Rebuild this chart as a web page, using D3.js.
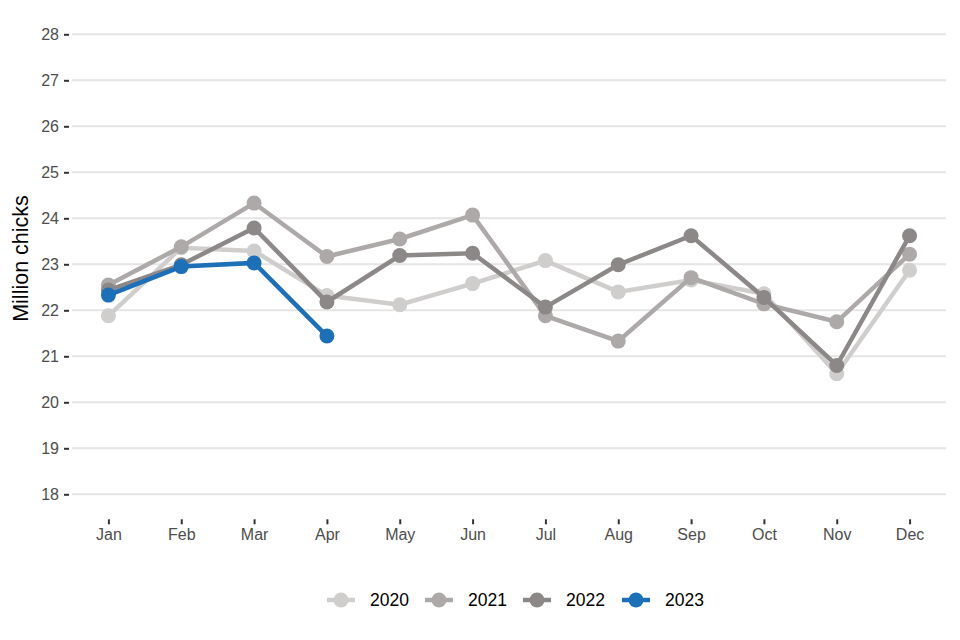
<!DOCTYPE html>
<html>
<head>
<meta charset="utf-8">
<script src="https://cdn.jsdelivr.net/npm/d3@7"></script>
<style>
    body { margin: 0; background: #fff; }
    text { font-family: "Liberation Sans", Arial, sans-serif; }
</style>
</head>
<body>
<div id="chart"></div>
<script>
///////////////////////////
// DATA
///////////////////////////

const months = ['Jan', 'Feb', 'Mar', 'Apr', 'May', 'Jun', 'Jul', 'Aug', 'Sep', 'Oct', 'Nov', 'Dec'];
const years = ['2020', '2021', '2022', '2023'];
const yTicks = [18, 19, 20, 21, 22, 23, 24, 25, 26, 27, 28];

const values2020 = [21.88, 23.36, 23.29, 22.32, 22.12, 22.58, 23.08, 22.40, 22.66, 22.36, 20.62, 22.87];
const values2021 = [22.55, 23.38, 24.33, 23.17, 23.55, 24.07, 21.88, 21.33, 22.71, 22.14, 21.75, 23.22];
const values2022 = [22.44, 22.99, 23.79, 22.18, 23.19, 23.24, 22.07, 22.99, 23.62, 22.28, 20.80, 23.62];
const values2023 = [22.33, 22.95, 23.03, 21.44];

const colors = ['#d0cdcd', '#ada9a9', '#8c8888', '#1d70b8'];

const series = [values2020, values2021, values2022, values2023].map((vals, i) => {
    return {
        year: years[i],
        color: colors[i],
        points: vals.map((v, j) => { return { month: months[j], value: v } })
    };
});

///////////////////////////
// CHART
///////////////////////////

const width = 960;
const height = 640;
const plotLeft = 72, plotRight = 946, plotTop = 34.3, plotBottom = 494.3;

const svg = d3.select('#chart')
    .append('svg')
    .attr('width', width)
    .attr('height', height);

const x = d3.scalePoint()
    .domain(months)
    .range([plotLeft, plotRight])
    .padding(0.5);

const y = d3.scaleLinear()
    .domain([18, 28])
    .range([plotBottom, plotTop]);

// gridlines
svg.append('g')
    .selectAll('line')
    .data(yTicks)
    .enter().append('line')
    .attr('x1', plotLeft)
    .attr('x2', plotRight)
    .attr('y1', (d) => { return y(d) })
    .attr('y2', (d) => { return y(d) })
    .style('stroke', '#e5e5e5')
    .style('stroke-width', 2);

// y axis
const yAxis = svg.append('g')
    .attr('transform', `translate(${plotLeft - 3},0)`)
    .call(d3.axisLeft(y).tickValues(yTicks).tickSize(5).tickPadding(5));
yAxis.select('.domain').remove();
yAxis.selectAll('.tick line').style('stroke', '#333').style('stroke-width', 2);
yAxis.selectAll('.tick text')
    .style('font-size', '16px')
    .style('fill', '#4d4d4d')
    .style('font-family', '"Liberation Sans", Arial, sans-serif');

// x axis
const xAxis = svg.append('g')
    .attr('transform', `translate(0,${plotBottom + 25})`)
    .call(d3.axisBottom(x).tickSize(5).tickPadding(4));
xAxis.select('.domain').remove();
xAxis.selectAll('.tick line').style('stroke', '#333').style('stroke-width', 2);
xAxis.selectAll('.tick text')
    .style('font-size', '16px')
    .style('fill', '#4d4d4d')
    .style('font-family', '"Liberation Sans", Arial, sans-serif');

// y title
svg.append('text')
    .attr('transform', `translate(28,258.5) rotate(-90)`)
    .attr('text-anchor', 'middle')
    .style('font-size', '21.5px')
    .style('fill', '#000')
    .text('Million chicks');

// lines and points
const line = d3.line()
    .x((d) => { return x(d.month) })
    .y((d) => { return y(d.value) });

const groups = svg.selectAll('.series')
    .data(series)
    .enter().append('g')
    .attr('class', 'series');

groups.append('path')
    .attr('d', (d) => { return line(d.points) })
    .style('fill', 'none')
    .style('stroke', (d) => { return d.color })
    .style('stroke-width', 4.5);

groups.selectAll('circle')
    .data((d) => { return d.points.map((p) => { return { ...p, color: d.color } }) })
    .enter().append('circle')
    .attr('cx', (d) => { return x(d.month) })
    .attr('cy', (d) => { return y(d.value) })
    .attr('r', 7.5)
    .style('fill', (d) => { return d.color });

// legend
const legendX = [327, 425, 523, 622];
const legend = svg.selectAll('.legend')
    .data(series)
    .enter().append('g')
    .attr('class', 'legend')
    .attr('transform', (d, i) => { return `translate(${legendX[i]},600)` });

legend.append('line')
    .attr('x1', 0)
    .attr('x2', 28)
    .style('stroke', (d) => { return d.color })
    .style('stroke-width', 4.5);

legend.append('circle')
    .attr('cx', 14)
    .attr('r', 7.5)
    .style('fill', (d) => { return d.color });

legend.append('text')
    .attr('x', 43)
    .attr('dy', '0.35em')
    .style('font-size', '17.5px')
    .style('fill', '#000')
    .text((d) => { return d.year });
</script>
</body>
</html>
